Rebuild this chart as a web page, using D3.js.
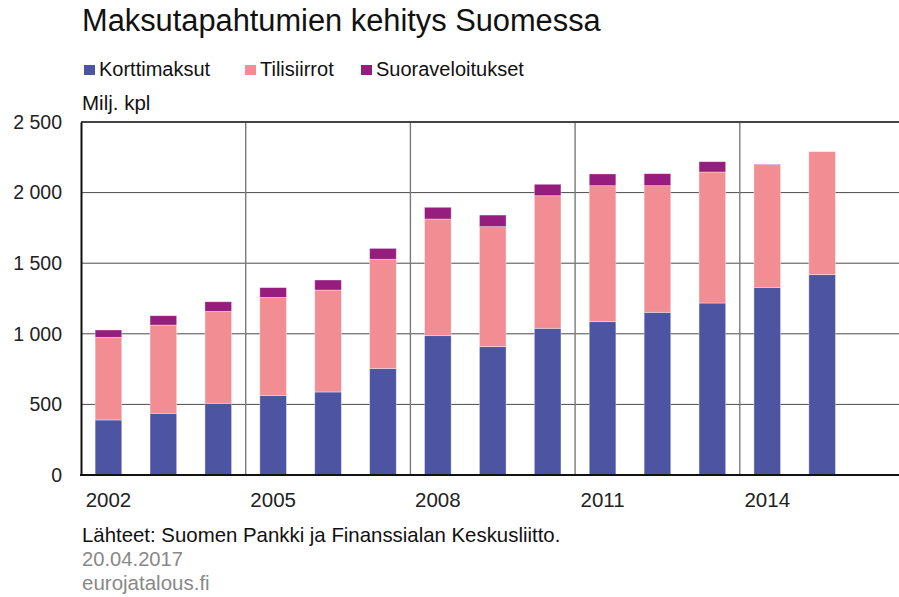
<!DOCTYPE html>
<html>
<head>
<meta charset="utf-8">
<script src="https://cdn.jsdelivr.net/npm/d3@7"></script>
<style>
  html, body { margin: 0; padding: 0; background: #fff; }
  svg { display: block; font-family: "Liberation Sans", Arial, sans-serif; }
</style>
</head>
<body>
<svg id="chart" width="899" height="597"></svg>
<script>
const years = ["2002","2003","2004","2005","2006","2007","2008","2009","2010","2011","2012","2013","2014","2015"];
const korttimaksut = [390, 437, 508, 564, 588, 755, 987, 909, 1039, 1086, 1152, 1218, 1329, 1419];
const tilisiirrot = [585, 625, 651, 694, 722, 773, 826, 850, 939, 963, 897, 928, 862, 871];
const suoraveloitukset = [52, 66, 68, 69, 71, 77, 83, 82, 81, 83, 85, 73, 8, 0];
const seriesNames = ["Korttimaksut", "Tilisiirrot", "Suoraveloitukset"];
const seriesColors = ["#4D55A3", "#F18D93", "#961C7E"];
const yTicks = [0, 500, 1000, 1500, 2000, 2500];
const xTickLabels = ["2002", "2005", "2008", "2011", "2014"];
const separatorYears = ["2005", "2008", "2011", "2014"];

(function () {
const svg = d3.select("#chart");
const W = 899;
const plotLeft = 81, plotTop = 122, plotBottom = 475;
const step = 54.9;

const x = d3.scaleBand()
  .domain(years)
  .range([plotLeft, plotLeft + step * years.length])
  .paddingInner(0.515)
  .paddingOuter(0.2575);

const y = d3.scaleLinear().domain([0, 2500]).range([plotBottom, plotTop]);

const table = years.map((yr, i) => ({
  year: yr,
  Korttimaksut: korttimaksut[i],
  Tilisiirrot: tilisiirrot[i],
  Suoraveloitukset: suoraveloitukset[i]
}));
const stacked = d3.stack().keys(seriesNames)(table);

// horizontal gridlines
svg.append("g").selectAll("line")
  .data(yTicks.filter(t => t > 0 && t < 2500))
  .join("line")
  .attr("x1", plotLeft).attr("x2", W)
  .attr("y1", d => y(d)).attr("y2", d => y(d))
  .attr("stroke", "#4a4a4a").attr("stroke-width", 1);

// vertical separators
const gap = (x.step() - x.bandwidth()) / 2;
svg.append("g").selectAll("line")
  .data(separatorYears)
  .join("line")
  .attr("x1", d => x(d) - gap).attr("x2", d => x(d) - gap)
  .attr("y1", plotTop).attr("y2", plotBottom)
  .attr("stroke", "#7a7a7a").attr("stroke-width", 1.4);

// bars
svg.append("g").selectAll("g")
  .data(stacked)
  .join("g")
  .attr("fill", (d, i) => seriesColors[i])
  .selectAll("rect")
  .data(d => d.filter(p => p[1] - p[0] > 0))
  .join("rect")
  .attr("x", d => x(d.data.year))
  .attr("width", x.bandwidth())
  .attr("y", d => y(d[1]))
  .attr("height", d => y(d[0]) - y(d[1]))
  .attr("stroke", "rgba(255,255,255,0.45)")
  .attr("stroke-width", 0.8);

// top border
svg.append("line")
  .attr("x1", plotLeft).attr("x2", W)
  .attr("y1", y(2500)).attr("y2", y(2500))
  .attr("stroke", "#444").attr("stroke-width", 2);

// axes
const fmt = d3.formatLocale({decimal: ",", thousands: "\u00a0", grouping: [3], currency: ["", ""]}).format(",");
const yAxis = svg.append("g")
  .attr("transform", `translate(${plotLeft},0)`)
  .call(d3.axisLeft(y).tickValues(yTicks).tickFormat(fmt).tickSize(0).tickPadding(19));
yAxis.select(".domain").attr("stroke", "#111").attr("stroke-width", 2);
yAxis.selectAll("text").attr("font-size", 19.5).attr("fill", "#222")
  .attr("font-family", "Liberation Sans, Arial, sans-serif");

const xAxis = svg.append("g")
  .attr("transform", `translate(0,${plotBottom})`)
  .call(d3.axisBottom(x).tickValues(xTickLabels).tickSize(0).tickPadding(17));
xAxis.select(".domain").remove();
xAxis.selectAll("text").attr("font-size", 20.5).attr("fill", "#222")
  .attr("font-family", "Liberation Sans, Arial, sans-serif");
svg.append("line")
  .attr("x1", plotLeft - 1).attr("x2", W)
  .attr("y1", plotBottom).attr("y2", plotBottom)
  .attr("stroke", "#111").attr("stroke-width", 2);

// title
svg.append("text")
  .attr("x", 82).attr("y", 31)
  .attr("font-size", 30.8).attr("fill", "#111")
  .text("Maksutapahtumien kehitys Suomessa");

// legend
const legendX = [84, 245, 361];
const lg = svg.append("g").selectAll("g")
  .data(seriesNames)
  .join("g")
  .attr("transform", (d, i) => `translate(${legendX[i]},0)`);
lg.append("rect").attr("x", 0).attr("y", 65).attr("width", 11).attr("height", 10)
  .attr("fill", (d, i) => seriesColors[i]);
lg.append("text").attr("x", 15).attr("y", 76)
  .attr("font-size", 20).attr("fill", "#111").text(d => d);

// unit label
svg.append("text").attr("x", 82).attr("y", 110)
  .attr("font-size", 20.5).attr("fill", "#111").text("Milj. kpl");

// footer
svg.append("text").attr("x", 82).attr("y", 542)
  .attr("font-size", 20.4).attr("fill", "#111")
  .text("Lähteet: Suomen Pankki ja Finanssialan Keskusliitto.");
svg.append("text").attr("x", 82).attr("y", 566)
  .attr("font-size", 20.2).attr("fill", "#888")
  .text("20.04.2017");
svg.append("text").attr("x", 82).attr("y", 590)
  .attr("font-size", 20.5).attr("fill", "#888")
  .text("eurojatalous.fi");
})();
</script>
</body>
</html>
